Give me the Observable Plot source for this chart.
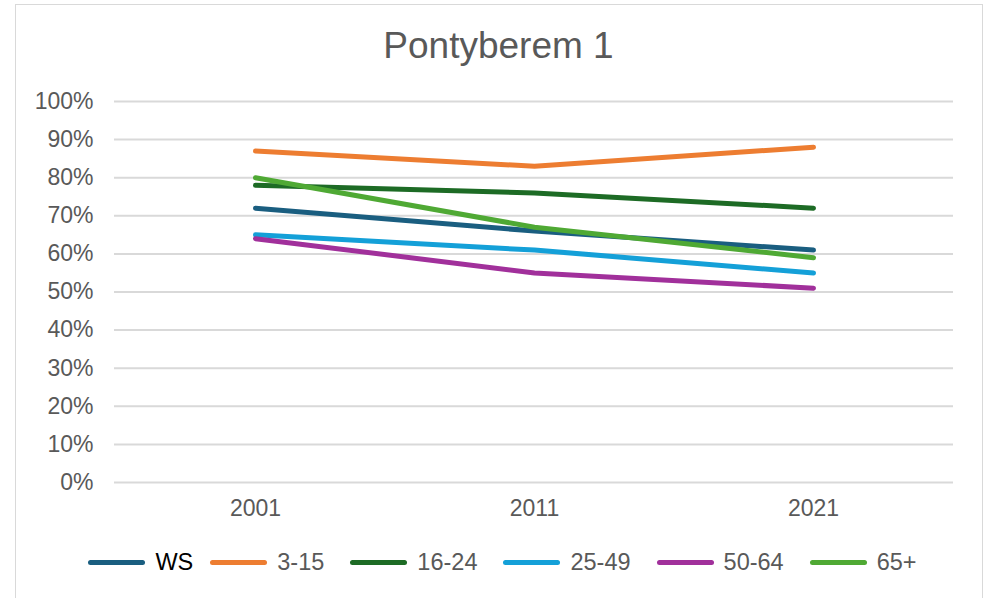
<!DOCTYPE html>
<html>
<head>
<meta charset="utf-8">
<script src="https://cdn.jsdelivr.net/npm/d3@7"></script>
<script src="https://cdn.jsdelivr.net/npm/@observablehq/plot@0.6"></script>
<style>
  html, body { margin: 0; padding: 0; background: #fff; }
  #wrap { position: relative; width: 991px; height: 598px; overflow: hidden; font-family: "Liberation Sans", Arial, sans-serif; }
  #frame { position: absolute; left: 15px; top: 4px; width: 968px; height: 610px; border: 1px solid #d9d9d9; box-sizing: border-box; }
  #title { position: absolute; left: 15px; width: 967px; top: 25px; text-align: center; font-size: 37px; color: #595959; }
  #chart { position: absolute; left: 0; top: 80px; }
  #legend { position: absolute; left: 15px; width: 975px; top: 549px; display: flex; justify-content: center; align-items: center; font-size: 23.5px; color: #595959; }
  .item { display: flex; align-items: center; }
  .sw { width: 57px; height: 5px; border-radius: 3px; margin-right: 10px; }
</style>
</head>
<body>
<div id="wrap">
  <div id="frame"></div>
  <div id="title">Pontyberem 1</div>
  <div id="chart"></div>
  <div id="legend"></div>
</div>
<script>
const years = ["2001", "2011", "2021"];
const seriesNames = ["WS", "3-15", "16-24", "25-49", "50-64", "65+"];
const seriesColors = ["#1a5e80", "#ed7d31", "#1d6b25", "#14a0d8", "#a1309b", "#4fa934"];
const wsValues = [72, 66, 61];
const age3to15 = [87, 83, 88];
const age16to24 = [78, 76, 72];
const age25to49 = [65, 61, 55];
const age50to64 = [64, 55, 51];
const age65plus = [80, 67, 59];
const yTicks = [0, 10, 20, 30, 40, 50, 60, 70, 80, 90, 100];

const allValues = [wsValues, age3to15, age16to24, age25to49, age50to64, age65plus];
const data = [];
seriesNames.forEach((s, i) => {
  years.forEach((y, j) => data.push({series: s, year: y, value: allValues[i][j]}));
});

const chart = Plot.plot({
  width: 991,
  height: 452,
  marginLeft: 114,
  marginRight: 38,
  marginTop: 21,
  marginBottom: 50,
  style: {fontFamily: "'Liberation Sans', Arial, sans-serif", fontSize: "23px", color: "#595959", background: "transparent", overflow: "visible"},
  x: {type: "point", domain: years, padding: 0.5, label: null},
  y: {domain: [0, 100], label: null},
  color: {domain: seriesNames, range: seriesColors},
  marks: [
    Plot.gridY(yTicks, {stroke: "#d9d9d9", strokeWidth: 2, strokeOpacity: 1}),
    Plot.axisY({ticks: yTicks, tickFormat: d => d + "%", tickSize: 0, tickPadding: 21, label: null, fill: "#595959"}),
    Plot.axisX({tickSize: 0, tickPadding: 17, label: null, fill: "#595959"}),
    Plot.lineY(data, {x: "year", y: "value", z: "series", stroke: "series", strokeWidth: 5, strokeLinecap: "round", strokeLinejoin: "round"})
  ]
});
document.getElementById("chart").appendChild(chart);

const legend = document.getElementById("legend");
seriesNames.forEach((s, i) => {
  const item = document.createElement("div");
  item.className = "item";
  if (i > 0) item.style.marginLeft = (i === 1 ? 17 : 26) + "px";
  const sw = document.createElement("div");
  sw.className = "sw";
  sw.style.background = seriesColors[i];
  const label = document.createElement("span");
  label.textContent = s;
  if (i === 0) label.style.color = "#000";
  item.appendChild(sw);
  item.appendChild(label);
  legend.appendChild(item);
});
</script>
</body>
</html>
